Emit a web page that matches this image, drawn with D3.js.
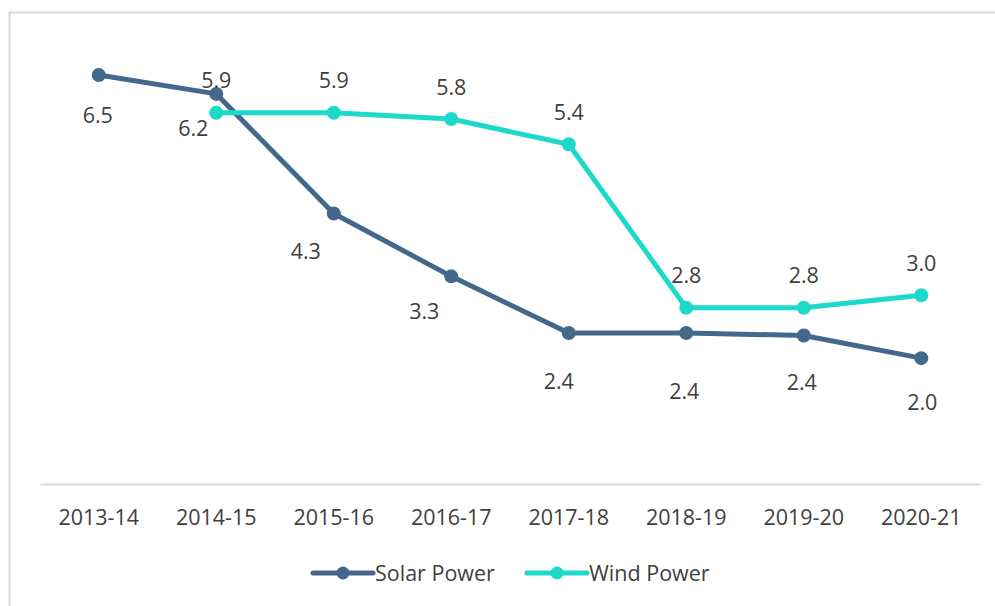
<!DOCTYPE html>
<html>
<head>
<meta charset="utf-8">
<script src="https://cdnjs.cloudflare.com/ajax/libs/d3/7.8.5/d3.min.js"></script>
<style>
  body { margin: 0; background: #fff; }
  svg { display: block; font-family: "Open Sans", sans-serif; }
</style>
</head>
<body>
<svg width="995" height="606"></svg>
<script>
// chart data
var years = ["2013-14", "2014-15", "2015-16", "2016-17", "2017-18", "2018-19", "2019-20", "2020-21"];
var solarValues = [6.5, 6.2, 4.3, 3.3, 2.4, 2.4, 2.36, 2.0];
var windValues = [null, 5.9, 5.9, 5.8, 5.4, 2.8, 2.8, 3.0];
var seriesNames = ["Solar Power", "Wind Power"];

var solarColor = "#44688c",
    windColor = "#1dd9c9",
    textColor = "#404040",
    fontSize = "21.5px";

var svg = d3.select("svg");

// outer frame (light gray border, cut by the window edge)
svg.append("rect")
    .attr("x", 9.5).attr("y", 12.5)
    .attr("width", 1000).attr("height", 620)
    .attr("fill", "none")
    .attr("stroke", "#d9d9d9")
    .attr("stroke-width", 2);

// scales
var x = d3.scaleBand().domain(years).range([40, 980]);
var y = d3.scaleLinear().domain([0, 6.5]).range([484, 75]);
var cx = function(d, i) { return x(years[i]) + x.bandwidth() / 2; };

// x axis
var xAxis = svg.append("g")
    .attr("transform", "translate(0,484)")
    .call(d3.axisBottom(x).tickSize(0).tickPadding(26));
xAxis.select(".domain").attr("stroke", "#d9d9d9").attr("stroke-width", 2);
xAxis.selectAll("text")
    .style("font-size", fontSize)
    .style("font-family", "Open Sans, sans-serif")
    .attr("fill", textColor);

var line = d3.line()
    .defined(function(d) { return d != null; })
    .x(cx)
    .y(function(d) { return y(d); });

// solar series
svg.append("path")
    .datum(solarValues)
    .attr("d", line)
    .attr("fill", "none")
    .attr("stroke", solarColor)
    .attr("stroke-width", 5)
    .attr("stroke-linejoin", "round");

// wind series
svg.append("path")
    .datum(windValues)
    .attr("d", line)
    .attr("fill", "none")
    .attr("stroke", windColor)
    .attr("stroke-width", 5)
    .attr("stroke-linejoin", "round");

function markers(values, color) {
  svg.append("g").selectAll("circle")
    .data(values.map(function(v, i) { return {v: v, i: i}; }).filter(function(d) { return d.v != null; }))
    .join("circle")
      .attr("cx", function(d) { return cx(d.v, d.i); })
      .attr("cy", function(d) { return y(d.v); })
      .attr("r", 7)
      .attr("fill", color);
}
markers(solarValues, solarColor);
markers(windValues, windColor);

// data labels (solar labels sit below/left like in the original)
var solarLabelShift = [[-1, 40], [-23, 35], [-28, 38], [-27, 35], [-10, 48], [-2, 58], [-2, 47], [1, 44]];

svg.append("g").selectAll("text")
  .data(solarValues)
  .join("text")
    .attr("x", function(d, i) { return cx(d, i) + solarLabelShift[i][0]; })
    .attr("y", function(d, i) { return y(d) + solarLabelShift[i][1]; })
    .attr("dy", "0.35em")
    .attr("text-anchor", "middle")
    .attr("fill", textColor)
    .style("font-size", fontSize)
    .text(function(d) { return d3.format(".1f")(d); });

svg.append("g").selectAll("text")
  .data(windValues.map(function(v, i) { return {v: v, i: i}; }).filter(function(d) { return d.v != null; }))
  .join("text")
    .attr("x", function(d) { return cx(d.v, d.i); })
    .attr("y", function(d) { return y(d.v) - 32; })
    .attr("dy", "0.35em")
    .attr("text-anchor", "middle")
    .attr("fill", textColor)
    .style("font-size", fontSize)
    .text(function(d) { return d3.format(".1f")(d.v); });

// legend
var legend = svg.append("g").attr("transform", "translate(0,573)");
var legendX = [313, 527];
[solarColor, windColor].forEach(function(c, i) {
  var g = legend.append("g").attr("transform", "translate(" + legendX[i] + ",0)");
  g.append("line").attr("x1", 0).attr("x2", 60).attr("y1", 0).attr("y2", 0)
    .attr("stroke", c).attr("stroke-width", 5).attr("stroke-linecap", "round");
  g.append("circle").attr("cx", 30).attr("cy", 0).attr("r", 6.5).attr("fill", c);
  g.append("text").attr("x", 62).attr("dy", "0.35em")
    .attr("fill", textColor)
    .style("font-size", fontSize)
    .text(seriesNames[i]);
});
</script>
</body>
</html>
